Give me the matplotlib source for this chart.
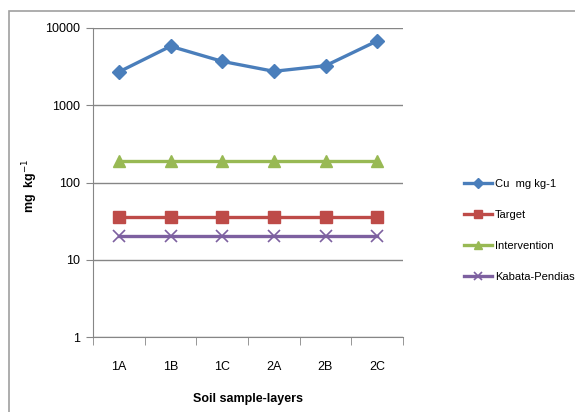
import matplotlib
matplotlib.use("Agg")
import matplotlib.pyplot as plt
from matplotlib.patches import Rectangle
from matplotlib.ticker import FixedLocator, FixedFormatter, NullFormatter

plt.rcParams['font.family'] = ['Liberation Sans', 'DejaVu Sans']

layers = ['1A', '1B', '1C', '2A', '2B', '2C']
cu = [2700, 5800, 3700, 2750, 3250, 6800]
target = [36, 36, 36, 36, 36, 36]
intervention = [190, 190, 190, 190, 190, 190]
kabata = [20, 20, 20, 20, 20, 20]

yticks = [1, 10, 100, 1000, 10000]

fig = plt.figure(figsize=(5.75, 4.12), dpi=100)
# outer chart border
fig.patches.append(Rectangle((9/575, -0.05), 1.2, 1 - 11/412 + 0.05,
                             transform=fig.transFigure, fill=False,
                             edgecolor='#a0a0a0', linewidth=1.2))

ax = fig.add_axes([93/575, 1 - 337/412, 310/575, 309/412])
x = list(range(len(layers)))
ax.plot(x, cu, color='#4a7ebb', lw=2.4, marker='D', ms=7, label='Cu  mg kg-1')
ax.plot(x, target, color='#be4b48', lw=2.4, marker='s', ms=8, label='Target')
ax.plot(x, intervention, color='#98b954', lw=2.4, marker='^', ms=9, label='Intervention')
ax.plot(x, kabata, color='#7d60a0', lw=2.4, marker='x', ms=8, mew=1.2, label='Kabata-Pendias')

ax.set_yscale('log')
ax.set_ylim(1, 10000)
ax.yaxis.set_major_locator(FixedLocator(yticks))
ax.yaxis.set_major_formatter(FixedFormatter([str(v) for v in yticks]))
ax.yaxis.set_minor_formatter(NullFormatter())
ax.yaxis.set_minor_locator(FixedLocator([]))
ax.grid(axis='y', color='#868686', lw=1)
ax.set_axisbelow(True)

ax.set_xlim(-0.5, len(layers) - 0.5)
ax.set_xticks(x)
ax.set_xticklabels(layers)
ax.set_xticks([i - 0.5 for i in range(len(layers) + 1)], minor=True)
ax.tick_params(axis='x', which='major', length=0, pad=17, labelsize=9)
ax.tick_params(axis='x', which='minor', length=6, color='#868686')
ax.tick_params(axis='y', which='major', length=5, color='#868686', labelsize=9, pad=4)

for s in ['top', 'right']:
    ax.spines[s].set_visible(False)
ax.spines['left'].set_color('#868686')
ax.spines['bottom'].set_color('#868686')

ax.set_xlabel('Soil sample-layers', fontweight='bold', fontsize=9)
ax.xaxis.set_label_coords(0.5, -0.18)
ax.set_ylabel('mg  kg$^{-1}$', fontweight='bold', fontsize=9, va='center')
ax.yaxis.set_label_coords(-0.203, 0.49)

ax.legend(loc='upper left', bbox_to_anchor=(464/575, 1 - 179/412),
          bbox_transform=fig.transFigure, frameon=False, fontsize=8,
          handlelength=2.5, labelspacing=1.9, handletextpad=0.3,
          borderpad=0, borderaxespad=0, markerscale=0.7)

fig.savefig('out.png', dpi=100)
